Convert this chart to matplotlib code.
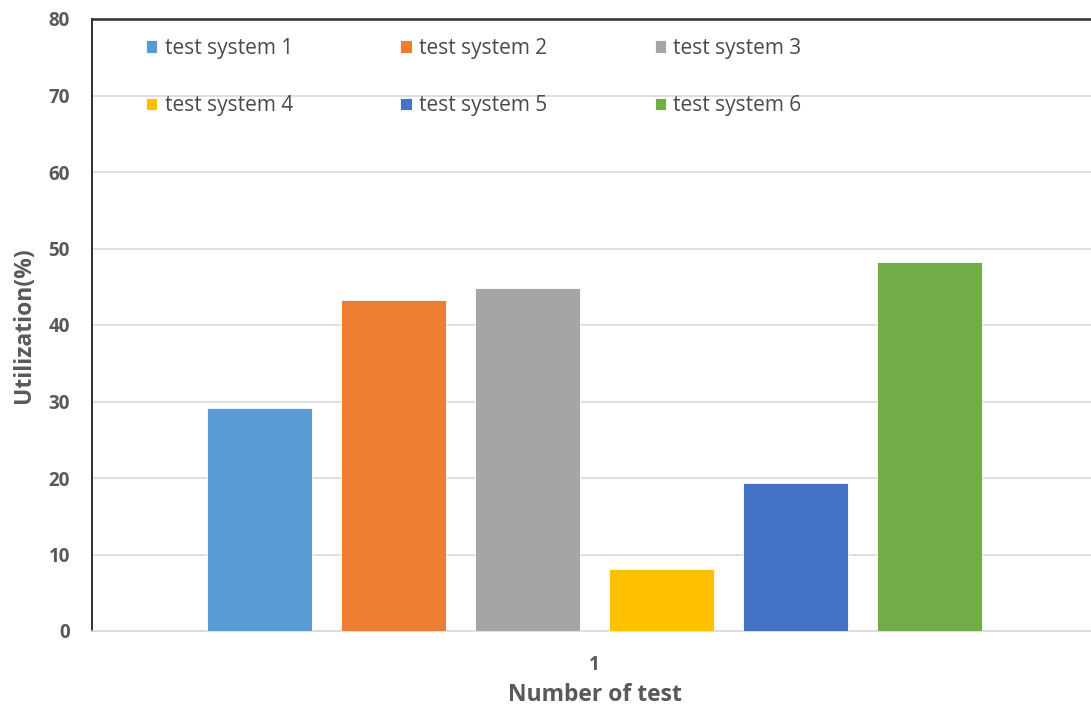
import matplotlib
matplotlib.use("Agg")
import matplotlib.pyplot as plt
import numpy as np

# Data
categories = ["1"]
series_names = ["test system 1", "test system 2", "test system 3",
                "test system 4", "test system 5", "test system 6"]
utilization = [29.1, 43.3, 44.8, 8.1, 19.3, 48.2]
colors = ["#5B9BD5", "#ED7D31", "#A5A5A5", "#FFC000", "#4472C4", "#70AD47"]
y_ticks = [0, 10, 20, 30, 40, 50, 60, 70, 80]

plt.rcParams["font.family"] = ["Open Sans", "DejaVu Sans"]
text_gray = "#595959"

fig = plt.figure(figsize=(10.91, 7.10), dpi=100)
ax = fig.add_axes([92 / 1091, 1 - 631 / 710, 1005 / 1091, (631 - 19) / 710])

step = 0.1333
width = 0.1045
x0 = np.arange(len(categories))
handles = []
for i, (name, val, c) in enumerate(zip(series_names, utilization, colors)):
    b = ax.bar(x0 + (i - 2.5) * step, [val], width=width, color=c,
               edgecolor="white", linewidth=0.6, label=name, zorder=3)
    handles.append(b)

ax.set_xlim(-0.5, 0.5)
ax.set_ylim(0, 80)
ax.set_yticks(y_ticks)
ax.set_xticks(x0)
ax.set_xticklabels(categories)
ax.yaxis.grid(True, color="#D9D9D9", linewidth=1.2, zorder=0)
ax.set_axisbelow(True)

for lab in ax.get_yticklabels():
    lab.set_fontweight("bold")
    lab.set_fontsize(13.5)
    lab.set_color(text_gray)
for lab in ax.get_xticklabels():
    lab.set_fontweight("bold")
    lab.set_fontsize(13.5)
    lab.set_color(text_gray)
ax.tick_params(axis="both", length=0)
ax.tick_params(axis="y", pad=16)
ax.tick_params(axis="x", pad=17)

ax.spines["left"].set_color("#202020")
ax.spines["left"].set_linewidth(1.3)
ax.spines["top"].set_color("#303030")
ax.spines["top"].set_linewidth(1.8)
ax.spines["right"].set_visible(False)
ax.spines["bottom"].set_color("#D9D9D9")
ax.spines["bottom"].set_linewidth(1.2)

ax.set_ylabel("Utilization(%)", fontsize=16.5, fontweight="bold", color=text_gray, labelpad=9)
ax.set_xlabel("Number of test", fontsize=16.5, fontweight="bold", color=text_gray, labelpad=6)

# legend laid out row by row (matplotlib fills columns first)
ncol, nrow = 3, 2
order = [r * ncol + c for c in range(ncol) for r in range(nrow)]
leg = ax.legend(handles=[handles[k] for k in order],
                labels=[series_names[k] for k in order],
                ncol=ncol, loc="upper left",
                bbox_to_anchor=(0.035, 1.0), frameon=False, fontsize=15,
                handlelength=0.55, handleheight=0.55, handletextpad=0.35,
                columnspacing=5.15, labelspacing=1.75)
for t in leg.get_texts():
    t.set_color("#4a4a4a")

fig.savefig("out.png", dpi=100, facecolor="white")
